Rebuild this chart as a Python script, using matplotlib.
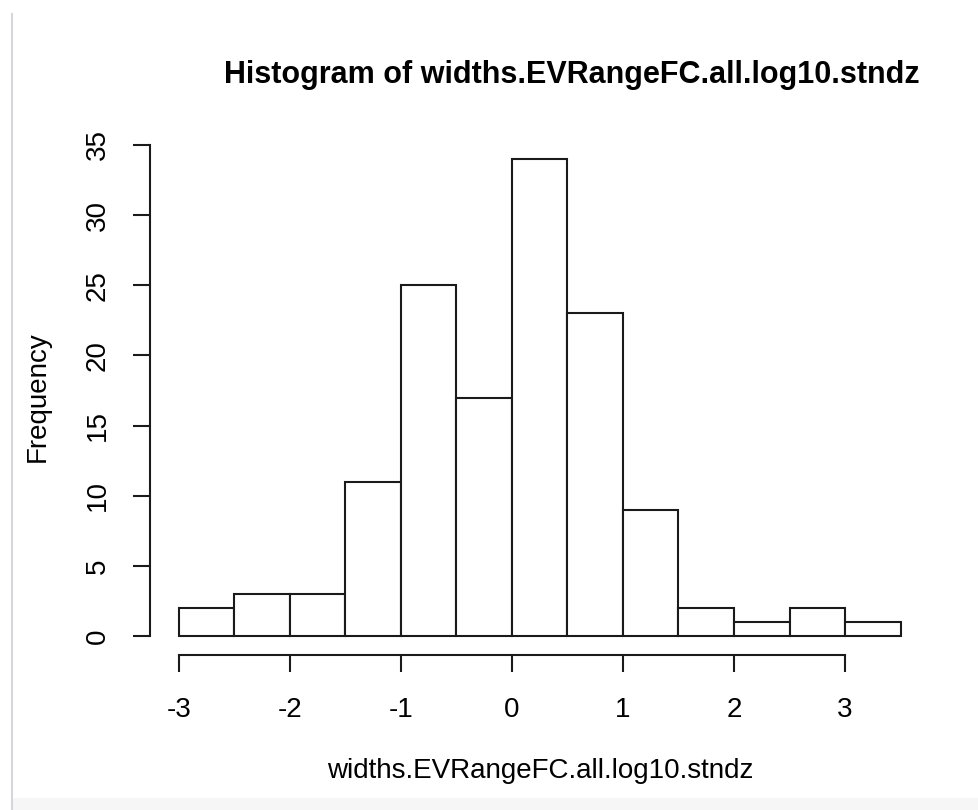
import numpy as np
import matplotlib
matplotlib.use("Agg")
from matplotlib import pyplot as plt

# histogram bins and counts
bin_edges = [-3.0, -2.5, -2.0, -1.5, -1.0, -0.5, 0.0, 0.5, 1.0, 1.5, 2.0, 2.5, 3.0, 3.5]
counts = [2, 3, 3, 11, 25, 17, 34, 23, 9, 2, 1, 2, 1]
x_ticks = [-3, -2, -1, 0, 1, 2, 3]
y_ticks = [0, 5, 10, 15, 20, 25, 30, 35]

W, H = 979, 810
plt.rcParams['font.family'] = ['Liberation Sans', 'DejaVu Sans']
plt.rcParams['axes.unicode_minus'] = False
INK = "#1a1a1a"

fig = plt.figure(figsize=(W / 100, H / 100), dpi=100)
fig.patch.set_facecolor("white")

# plot region in pixels (R style 4% padding around the data range)
left, right = 150.0, 929.4
top, bottom = 139.9, 655.1
ax = fig.add_axes([left / W, 1 - bottom / H, (right - left) / W, (bottom - top) / H])
ax.set_xlim(-3.26, 3.76)
ax.set_ylim(-1.36, 35.36)

widths = np.diff(bin_edges)
ax.bar(bin_edges[:-1], counts, width=widths, align="edge",
       facecolor="white", edgecolor=INK, linewidth=1.5)

for side in ["top", "right"]:
    ax.spines[side].set_visible(False)
ax.spines["left"].set_bounds(0, 35)
ax.spines["bottom"].set_bounds(-3, 3)
for side in ["left", "bottom"]:
    ax.spines[side].set_linewidth(1.5)
    ax.spines[side].set_color(INK)

ax.set_xticks(x_ticks)
ax.set_yticks(y_ticks)
ax.tick_params(axis="both", direction="out", length=12, width=1.5, color=INK,
               labelsize=20, labelcolor="black")
ax.tick_params(axis="x", pad=18)
ax.tick_params(axis="y", pad=16)
for lab in ax.get_yticklabels():
    lab.set_rotation(90)
    lab.set_va("center")

fig.text(572 / W, 1 - 75 / H, "Histogram of widths.EVRangeFC.all.log10.stndz",
         ha="center", va="center", fontsize=22, fontweight="bold")
fig.text(540 / W, 1 - 771 / H, "widths.EVRangeFC.all.log10.stndz",
         ha="center", va="center", fontsize=20)
fig.text(38 / W, 1 - 397 / H, "Frequency", ha="center", va="center",
         rotation=90, fontsize=20)

# page frame: left rule and grey strip at the bottom
fig.add_artist(plt.Line2D([12.5 / W, 12.5 / W], [0, 1 - 14 / H],
                          color="#d3d7dc", linewidth=1.5))
fig.add_artist(plt.Rectangle((13 / W, 0), 1, 12 / H, facecolor="#f6f6f6",
                             edgecolor="none"))

fig.savefig("out.png", dpi=100, facecolor="white")
